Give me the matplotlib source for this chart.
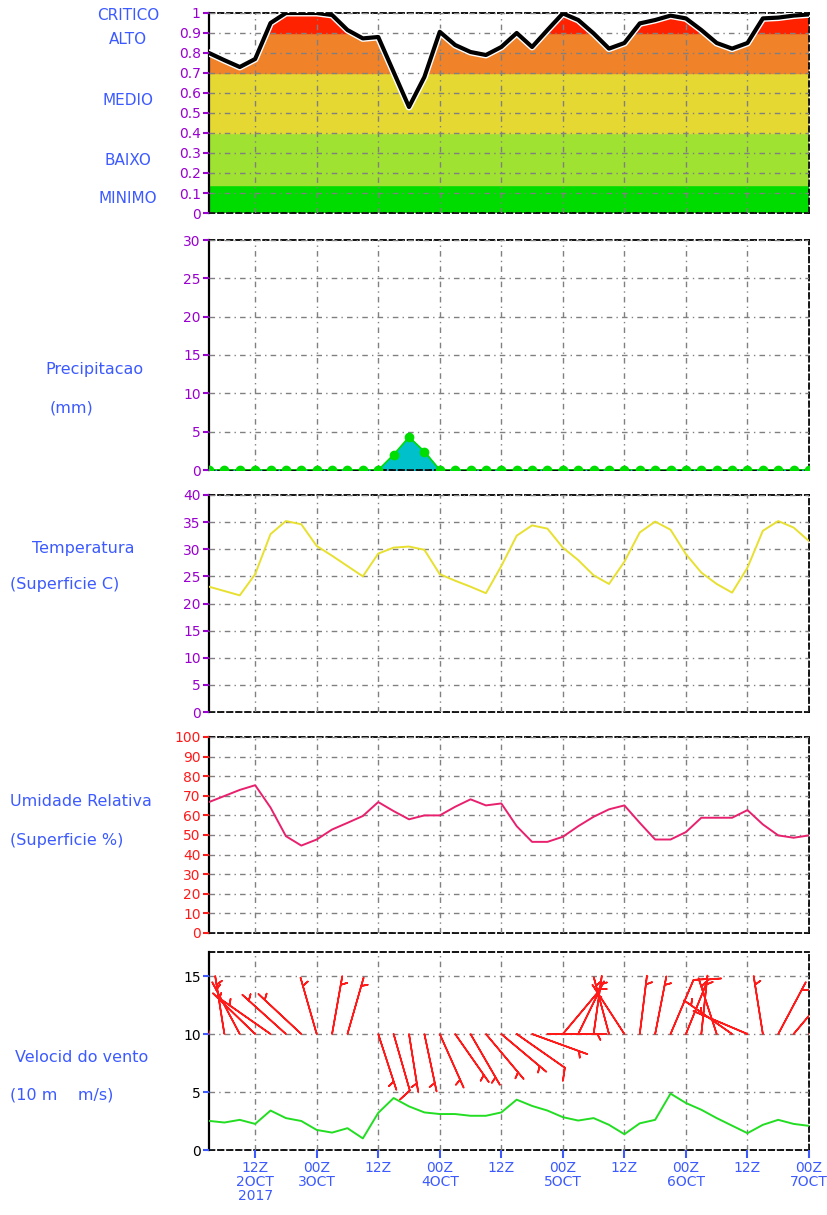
import numpy as np
import pandas as pd
import matplotlib
matplotlib.use('Agg')
import matplotlib.pyplot as plt
import matplotlib.dates as mdates
import matplotlib.patheffects as pe
from matplotlib.transforms import blended_transform_factory

# 3-hourly forecast, 03Z 2 Oct 2017 -> 00Z 7 Oct 2017
times = pd.date_range('2017-10-02 03:00', periods=40, freq='3h')

risk = [0.80, 0.764, 0.73, 0.77, 0.95, 1.0, 1.0, 1.0, 0.99, 0.915,
        0.873, 0.88, 0.705, 0.53, 0.68, 0.906, 0.84, 0.805, 0.79, 0.83,
        0.90, 0.83, 0.915, 0.998, 0.965, 0.898, 0.822, 0.85, 0.948, 0.965,
        0.987, 0.973, 0.915, 0.85, 0.822, 0.85, 0.973, 0.977, 0.987, 0.993]

precip = [0, 0, 0, 0, 0, 0, 0, 0, 0, 0,
          0, 0, 2.0, 4.3, 2.4, 0, 0, 0, 0, 0,
          0, 0, 0, 0, 0, 0, 0, 0, 0, 0,
          0, 0, 0, 0, 0, 0, 0, 0, 0, 0]

temp = [23.1, 22.3, 21.5, 25.4, 32.8, 35.2, 34.6, 30.6, 28.8, 26.9,
        25.0, 29.2, 30.3, 30.5, 29.9, 25.4, 24.2, 23.1, 21.9, 26.9,
        32.5, 34.4, 33.8, 30.3, 28.0, 25.2, 23.6, 27.7, 33.1, 35.1,
        33.6, 29.1, 25.7, 23.6, 22.0, 26.6, 33.4, 35.2, 34.0, 31.5]

humid = [66.8, 69.9, 73.0, 75.4, 64.0, 49.4, 44.6, 47.7, 52.8, 56.2,
         59.7, 66.8, 62.2, 58.0, 60.0, 60.0, 64.4, 68.2, 65.1, 66.1,
         54.5, 46.5, 46.5, 49.1, 54.5, 59.3, 63.1, 65.1, 56.2, 47.7,
         47.7, 51.5, 58.8, 58.8, 58.8, 62.7, 55.4, 49.8, 48.6, 49.8]

wspd = [2.51, 2.37, 2.6, 2.25, 3.4, 2.75, 2.5, 1.73, 1.5, 1.88,
        1.0, 3.2, 4.48, 3.76, 3.24, 3.1, 3.1, 2.95, 2.95, 3.24,
        4.34, 3.8, 3.4, 2.83, 2.54, 2.75, 2.17, 1.36, 2.3, 2.6,
        4.86, 4.05, 3.47, 2.75, 2.1, 1.45, 2.17, 2.6, 2.25, 2.08]

# direction the wind comes from (deg)
wdir = [350, 351, 332, 314, 305, 312, 313, 344, 10, 16,
        127, 162, 164, 171, 168, 156, 145, 150, 140, 130,
        125, 110, 90, 40, 26, 8, 345, 327, 7, 11,
        23, 22, 6, 342, 305, 293, 351, 28, 40, 50]

tick_times = pd.date_range('2017-10-02 12:00', '2017-10-07 00:00', freq='12h')
tick_labels = ['12Z\n2OCT\n2017', '00Z\n3OCT', '12Z', '00Z\n4OCT', '12Z',
               '00Z\n5OCT', '12Z', '00Z\n6OCT', '12Z', '00Z\n7OCT']

risk_bands = [0.0, 0.14, 0.40, 0.70, 0.90, 1.0]
risk_colors = ['#00dc00', '#a0e232', '#e6d832', '#f0822a', '#ff2200']
risk_names = ['CRITICO', 'ALTO', 'MEDIO', 'BAIXO', 'MINIMO']
risk_name_y = [0.99, 0.865, 0.563, 0.261, 0.075]

BLUE = '#3c5aff'
PURPLE = '#9a00d0'
RED = '#ff1a1a'
GRID = dict(color='#808080', lw=1.0, ls=(0, (4, 3, 1, 3)))

x = mdates.date2num(times)
xt = mdates.date2num(tick_times)

W, H = 827, 1215
fig = plt.figure(figsize=(W / 100, H / 100), dpi=100)


def make_ax(top, bottom):
    return fig.add_axes([209 / W, 1 - bottom / H, 600 / W, (bottom - top) / H])


def style(ax, yticks, ycolor, labelcolor=None):
    ax.set_xlim(x[0], x[-1])
    ax.set_xticks(xt)
    ax.set_yticks(yticks)
    ax.tick_params(axis='y', direction='out', length=4, width=1.5, color=ycolor,
                   labelcolor=labelcolor or ycolor, labelsize=10, pad=2)
    ax.tick_params(axis='x', length=0, labelbottom=False)
    for s in ['top', 'right', 'bottom']:
        ax.spines[s].set_linestyle((0, (3, 2)))
        ax.spines[s].set_linewidth(1.3)
    ax.spines['left'].set_linewidth(1.6)
    ax.grid(True, **GRID)
    ax.set_axisbelow(False)


# risk panel
ax1 = make_ax(13, 213)
for lo, hi, c in zip(risk_bands[:-1], risk_bands[1:], risk_colors):
    ax1.axhspan(lo, hi, color=c, zorder=0)
ax1.fill_between(x, risk, 1.05, color='white', zorder=1)
ax1.plot(x, risk, color='black', lw=3, zorder=3,
         path_effects=[pe.Stroke(linewidth=5, foreground='white'), pe.Normal()])
ax1.set_ylim(0, 1)
style(ax1, np.arange(0, 1.01, 0.1), PURPLE)
ax1.set_yticklabels(['0'] + ['%.1f' % v for v in np.arange(0.1, 0.95, 0.1)] + ['1'])
ax1.grid(True, zorder=2, **GRID)
tr = blended_transform_factory(ax1.transAxes, ax1.transData)
for name, yy in zip(risk_names, risk_name_y):
    ax1.text(-0.135, yy, name, transform=tr, ha='center', va='center',
             color=BLUE, fontsize=11)

# precipitation panel
ax2 = make_ax(240, 470)
ax2.fill_between(x, precip, 0, color='#00c0cc', zorder=2)
ax2.plot(x, precip, color='#00dd00', lw=1.2, marker='o', ms=6, zorder=3)
ax2.set_ylim(0, 30)
style(ax2, np.arange(0, 31, 5), PURPLE)

# temperature panel
ax3 = make_ax(495, 712)
ax3.plot(x, temp, color='#e8e030', lw=1.4, zorder=3)
ax3.set_ylim(0, 40)
style(ax3, np.arange(0, 41, 5), PURPLE)

# humidity panel
ax4 = make_ax(737, 933)
ax4.plot(x, humid, color='#e8206e', lw=1.4, zorder=3)
ax4.set_ylim(0, 100)
style(ax4, np.arange(0, 101, 10), RED)

# wind panel
ax5 = make_ax(952, 1150)
ax5.plot(x, wspd, color='#22dd22', lw=1.4, zorder=3)
kt = np.array(wspd) * 1.944
rad = np.deg2rad(wdir)
u = -kt * np.sin(rad)
v = -kt * np.cos(rad)
ax5.barbs(x, np.full(len(x), 10.0), u, v, length=9.2, color=RED, lw=1.2,
          sizes=dict(spacing=0.1, height=0.2, width=0.2, emptybarb=0.0),
          zorder=4, clip_on=True)
ax5.set_ylim(0, 17.07)
style(ax5, [0, 5, 10, 15], BLUE, labelcolor='black')
ax5.tick_params(axis='x', direction='out', length=6, width=1.5, color=BLUE,
                labelcolor=BLUE, labelbottom=True, labelsize=10, pad=2)
ax5.set_xticklabels(tick_labels, linespacing=1.0)

# left-side titles
side = [('Precipitacao', 45, 370), ('(mm)', 50, 408),
        ('Temperatura', 32, 548), ('(Superficie C)', 10, 585),
        ('Umidade Relativa', 10, 802), ('(Superficie %)', 10, 840),
        ('Velocid do vento', 15, 1057), ('(10 m    m/s)', 10, 1095)]
for txt, px, py in side:
    fig.text(px / W, 1 - py / H, txt, ha='left', va='center', color=BLUE,
             fontsize=11.5)

fig.savefig('out.png', dpi=100)
